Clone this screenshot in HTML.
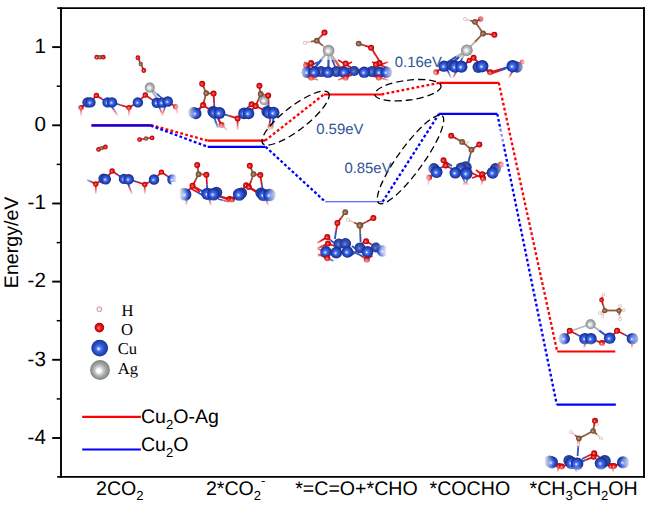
<!DOCTYPE html>
<html><head><meta charset="utf-8"><title>Energy profile</title>
<style>html,body{margin:0;padding:0;background:#fff}body{width:650px;height:507px;overflow:hidden}</style>
</head><body>
<svg width="650" height="507" viewBox="0 0 650 507" style="display:block" text-rendering="geometricPrecision">
<defs>
<radialGradient id="gCu" cx="0.5" cy="0.5" r="0.5" fx="0.42" fy="0.55"><stop offset="0" stop-color="#f4f8ff"/><stop offset="0.14" stop-color="#9db9ff"/><stop offset="0.32" stop-color="#4570ea"/><stop offset="0.65" stop-color="#2749c4"/><stop offset="1" stop-color="#162883"/></radialGradient>
<radialGradient id="gCub" cx="0.5" cy="0.5" r="0.5" fx="0.42" fy="0.55"><stop offset="0" stop-color="#7f97e6"/><stop offset="0.3" stop-color="#3e5cc4"/><stop offset="0.7" stop-color="#2c46a8"/><stop offset="1" stop-color="#1c2e80"/></radialGradient>
<radialGradient id="gO" cx="0.5" cy="0.5" r="0.5" fx="0.42" fy="0.55"><stop offset="0" stop-color="#ffc4c4"/><stop offset="0.22" stop-color="#ff4040"/><stop offset="0.6" stop-color="#e01014"/><stop offset="1" stop-color="#9c0606"/></radialGradient>
<radialGradient id="gC" cx="0.5" cy="0.5" r="0.5" fx="0.42" fy="0.55"><stop offset="0" stop-color="#d9b49a"/><stop offset="0.4" stop-color="#96674a"/><stop offset="1" stop-color="#6d452f"/></radialGradient>
<radialGradient id="gH" cx="0.5" cy="0.5" r="0.5" fx="0.42" fy="0.55"><stop offset="0" stop-color="#ffffff"/><stop offset="0.5" stop-color="#fdecec"/><stop offset="0.8" stop-color="#eec4c4"/><stop offset="1" stop-color="#c08c8c"/></radialGradient>
<radialGradient id="gAg" cx="0.5" cy="0.5" r="0.5" fx="0.42" fy="0.55"><stop offset="0" stop-color="#ffffff"/><stop offset="0.22" stop-color="#f0f1f1"/><stop offset="0.55" stop-color="#bcbfbf"/><stop offset="0.85" stop-color="#999c9c"/><stop offset="1" stop-color="#777a7a"/></radialGradient>
<radialGradient id="gCuL" cx="0.5" cy="0.5" r="0.5" fx="0.42" fy="0.55"><stop offset="0" stop-color="#ffffff"/><stop offset="0.1" stop-color="#c6d6ff"/><stop offset="0.28" stop-color="#4d76ee"/><stop offset="0.6" stop-color="#2a4fca"/><stop offset="0.88" stop-color="#2040a8"/><stop offset="1" stop-color="#182c84"/></radialGradient>
<radialGradient id="gAgL" cx="0.5" cy="0.5" r="0.5" fx="0.42" fy="0.55"><stop offset="0" stop-color="#ffffff"/><stop offset="0.2" stop-color="#ffffff"/><stop offset="0.42" stop-color="#c9cccc"/><stop offset="0.7" stop-color="#9da1a1"/><stop offset="0.9" stop-color="#8a8e8e"/><stop offset="1" stop-color="#747878"/></radialGradient>
<linearGradient id="fd" x1="0" y1="0" x2="0" y2="1"><stop offset="0" stop-color="#fff" stop-opacity="0"/><stop offset="1" stop-color="#fff" stop-opacity="1"/></linearGradient>
<linearGradient id="fl" x1="1" y1="0" x2="0" y2="0"><stop offset="0" stop-color="#fff" stop-opacity="0"/><stop offset="1" stop-color="#fff" stop-opacity="1"/></linearGradient>
<linearGradient id="fr" x1="0" y1="0" x2="1" y2="0"><stop offset="0" stop-color="#fff" stop-opacity="0"/><stop offset="1" stop-color="#fff" stop-opacity="1"/></linearGradient>
</defs>
<rect width="650" height="507" fill="#fff"/>
<g>
<line x1="81.0" y1="107.6" x2="81.0" y2="112.3" stroke="#e01418" stroke-width="1.8"/><line x1="81.0" y1="112.3" x2="81.0" y2="117.0" stroke="#e01418" stroke-width="1.8"/>
<line x1="110.0" y1="104.0" x2="114.0" y2="110.0" stroke="#2d50c4" stroke-width="1.8"/><line x1="114.0" y1="110.0" x2="118.0" y2="116.0" stroke="#e01418" stroke-width="1.8"/>
<line x1="129.0" y1="107.6" x2="129.0" y2="112.3" stroke="#e01418" stroke-width="1.8"/><line x1="129.0" y1="112.3" x2="129.0" y2="117.0" stroke="#e01418" stroke-width="1.8"/>
<line x1="158.0" y1="104.0" x2="160.5" y2="110.0" stroke="#2d50c4" stroke-width="1.8"/><line x1="160.5" y1="110.0" x2="163.0" y2="116.0" stroke="#e01418" stroke-width="1.8"/>
<line x1="166.0" y1="104.0" x2="164.0" y2="110.0" stroke="#2d50c4" stroke-width="1.8"/><line x1="164.0" y1="110.0" x2="162.0" y2="116.0" stroke="#e01418" stroke-width="1.8"/>
<line x1="175.6" y1="106.8" x2="176.8" y2="110.4" stroke="#e01418" stroke-width="1.8"/><line x1="176.8" y1="110.4" x2="178.0" y2="114.0" stroke="#e01418" stroke-width="1.8"/>
<line x1="149.8" y1="87.6" x2="153.9" y2="93.8" stroke="#b4b7b7" stroke-width="2.2"/><line x1="153.9" y1="93.8" x2="158.0" y2="100.0" stroke="#b4b7b7" stroke-width="2.2"/>
<line x1="149.8" y1="87.6" x2="156.9" y2="93.8" stroke="#b4b7b7" stroke-width="1.6"/><line x1="156.9" y1="93.8" x2="164.0" y2="100.0" stroke="#2d50c4" stroke-width="1.6"/>
<line x1="96.8" y1="57.2" x2="98.4" y2="57.2" stroke="#e01418" stroke-width="1.8"/><line x1="98.4" y1="57.2" x2="100.0" y2="57.2" stroke="#8a5a3e" stroke-width="1.8"/>
<line x1="100.0" y1="57.2" x2="101.6" y2="57.2" stroke="#8a5a3e" stroke-width="1.8"/><line x1="101.6" y1="57.2" x2="103.2" y2="57.2" stroke="#e01418" stroke-width="1.8"/>
<line x1="137.9" y1="57.7" x2="139.4" y2="60.9" stroke="#e01418" stroke-width="1.8"/><line x1="139.4" y1="60.9" x2="140.8" y2="64.0" stroke="#8a5a3e" stroke-width="1.8"/>
<line x1="140.8" y1="64.0" x2="142.3" y2="67.2" stroke="#8a5a3e" stroke-width="1.8"/><line x1="142.3" y1="67.2" x2="143.8" y2="70.5" stroke="#e01418" stroke-width="1.8"/>
<line x1="81.0" y1="107.6" x2="84.3" y2="105.0" stroke="#e01418" stroke-width="1.8"/><line x1="84.3" y1="105.0" x2="87.6" y2="102.4" stroke="#2d50c4" stroke-width="1.8"/>
<line x1="90.4" y1="102.4" x2="93.4" y2="98.9" stroke="#2d50c4" stroke-width="1.8"/><line x1="93.4" y1="98.9" x2="96.4" y2="95.4" stroke="#e01418" stroke-width="1.8"/>
<line x1="96.4" y1="95.4" x2="102.0" y2="98.9" stroke="#e01418" stroke-width="1.8"/><line x1="102.0" y1="98.9" x2="107.6" y2="102.4" stroke="#2d50c4" stroke-width="1.8"/>
<line x1="112.0" y1="102.4" x2="120.5" y2="105.0" stroke="#2d50c4" stroke-width="1.8"/><line x1="120.5" y1="105.0" x2="129.0" y2="107.6" stroke="#e01418" stroke-width="1.8"/>
<line x1="129.0" y1="107.6" x2="133.4" y2="105.0" stroke="#e01418" stroke-width="1.8"/><line x1="133.4" y1="105.0" x2="137.9" y2="102.4" stroke="#2d50c4" stroke-width="1.8"/>
<line x1="137.9" y1="102.4" x2="141.6" y2="98.7" stroke="#2d50c4" stroke-width="1.8"/><line x1="141.6" y1="98.7" x2="145.3" y2="95.0" stroke="#e01418" stroke-width="1.8"/>
<line x1="145.3" y1="95.0" x2="151.1" y2="98.9" stroke="#e01418" stroke-width="1.8"/><line x1="151.1" y1="98.9" x2="156.8" y2="102.8" stroke="#2d50c4" stroke-width="1.8"/>
<line x1="167.8" y1="101.5" x2="171.7" y2="104.2" stroke="#2d50c4" stroke-width="1.8"/><line x1="171.7" y1="104.2" x2="175.6" y2="106.8" stroke="#e01418" stroke-width="1.8"/>
<circle cx="96.8" cy="57.2" r="2.4" fill="url(#gO)"/>
<circle cx="100.0" cy="57.2" r="2.2" fill="url(#gC)"/>
<circle cx="103.2" cy="57.2" r="2.4" fill="url(#gO)"/>
<circle cx="137.9" cy="57.7" r="2.4" fill="url(#gO)"/>
<circle cx="140.8" cy="64.0" r="2.2" fill="url(#gC)"/>
<circle cx="143.8" cy="70.5" r="2.4" fill="url(#gO)"/>
<circle cx="81.0" cy="107.6" r="2.7" fill="url(#gO)"/>
<circle cx="87.6" cy="102.4" r="5.22" fill="url(#gCu)"/>
<circle cx="90.4" cy="102.4" r="5.22" fill="url(#gCu)"/>
<circle cx="96.4" cy="95.4" r="2.7" fill="url(#gO)"/>
<circle cx="107.6" cy="102.4" r="5.22" fill="url(#gCu)"/>
<circle cx="112.0" cy="102.4" r="5.22" fill="url(#gCu)"/>
<circle cx="129.0" cy="107.6" r="2.7" fill="url(#gO)"/>
<circle cx="137.9" cy="102.4" r="5.22" fill="url(#gCu)"/>
<circle cx="145.3" cy="95.0" r="2.7" fill="url(#gO)"/>
<circle cx="156.8" cy="102.8" r="5.22" fill="url(#gCu)"/>
<circle cx="162.0" cy="102.6" r="5.22" fill="url(#gCu)"/>
<circle cx="167.8" cy="101.5" r="5.22" fill="url(#gCu)"/>
<circle cx="175.6" cy="106.8" r="2.7" fill="url(#gO)"/>
<circle cx="149.8" cy="87.6" r="5.0" fill="url(#gAg)"/>
<rect x="70" y="107" width="115" height="10" fill="url(#fd)"/>
<rect x="70" y="116.5" width="115" height="12" fill="#fff"/>
<rect x="70" y="90" width="12" height="30" fill="url(#fl)"/>
<rect x="62.5" y="90" width="8" height="30" fill="#fff"/>
<rect x="172" y="90" width="9" height="30" fill="url(#fr)"/>
<rect x="180.5" y="90" width="8" height="30" fill="#fff"/>
</g>
<g>
<line x1="95.8" y1="183.9" x2="95.8" y2="188.9" stroke="#e01418" stroke-width="1.8"/><line x1="95.8" y1="188.9" x2="95.8" y2="194.0" stroke="#e01418" stroke-width="1.8"/>
<line x1="95.8" y1="183.9" x2="91.4" y2="181.9" stroke="#e01418" stroke-width="1.8"/><line x1="91.4" y1="181.9" x2="87.0" y2="180.0" stroke="#2d50c4" stroke-width="1.8"/>
<line x1="127.0" y1="181.0" x2="129.5" y2="187.5" stroke="#2d50c4" stroke-width="1.8"/><line x1="129.5" y1="187.5" x2="132.0" y2="194.0" stroke="#e01418" stroke-width="1.8"/>
<line x1="144.8" y1="184.5" x2="144.8" y2="189.2" stroke="#e01418" stroke-width="1.8"/><line x1="144.8" y1="189.2" x2="144.8" y2="194.0" stroke="#e01418" stroke-width="1.8"/>
<line x1="98.6" y1="149.4" x2="100.2" y2="148.8" stroke="#e01418" stroke-width="1.8"/><line x1="100.2" y1="148.8" x2="101.8" y2="148.1" stroke="#8a5a3e" stroke-width="1.8"/>
<line x1="101.8" y1="148.1" x2="103.6" y2="147.6" stroke="#8a5a3e" stroke-width="1.8"/><line x1="103.6" y1="147.6" x2="105.4" y2="147.0" stroke="#e01418" stroke-width="1.8"/>
<line x1="139.6" y1="139.6" x2="142.8" y2="139.1" stroke="#e01418" stroke-width="1.8"/><line x1="142.8" y1="139.1" x2="146.0" y2="138.5" stroke="#8a5a3e" stroke-width="1.8"/>
<line x1="146.0" y1="138.5" x2="149.1" y2="138.2" stroke="#8a5a3e" stroke-width="1.8"/><line x1="149.1" y1="138.2" x2="152.1" y2="137.9" stroke="#e01418" stroke-width="1.8"/>
<line x1="95.8" y1="183.9" x2="99.7" y2="181.2" stroke="#e01418" stroke-width="1.8"/><line x1="99.7" y1="181.2" x2="103.6" y2="178.6" stroke="#2d50c4" stroke-width="1.8"/>
<line x1="105.8" y1="179.2" x2="108.9" y2="175.1" stroke="#2d50c4" stroke-width="1.8"/><line x1="108.9" y1="175.1" x2="112.1" y2="171.0" stroke="#e01418" stroke-width="1.8"/>
<line x1="112.1" y1="171.0" x2="118.0" y2="174.9" stroke="#e01418" stroke-width="1.8"/><line x1="118.0" y1="174.9" x2="124.0" y2="178.9" stroke="#2d50c4" stroke-width="1.8"/>
<line x1="128.7" y1="179.3" x2="136.8" y2="181.9" stroke="#2d50c4" stroke-width="1.8"/><line x1="136.8" y1="181.9" x2="144.8" y2="184.5" stroke="#e01418" stroke-width="1.8"/>
<line x1="144.8" y1="184.5" x2="149.4" y2="182.0" stroke="#e01418" stroke-width="1.8"/><line x1="149.4" y1="182.0" x2="154.0" y2="179.5" stroke="#2d50c4" stroke-width="1.8"/>
<line x1="154.0" y1="179.5" x2="157.7" y2="175.8" stroke="#2d50c4" stroke-width="1.8"/><line x1="157.7" y1="175.8" x2="161.4" y2="172.1" stroke="#e01418" stroke-width="1.8"/>
<line x1="161.4" y1="172.1" x2="166.9" y2="175.8" stroke="#e01418" stroke-width="1.8"/><line x1="166.9" y1="175.8" x2="172.5" y2="179.5" stroke="#2d50c4" stroke-width="1.8"/>
<circle cx="98.6" cy="149.4" r="2.4" fill="url(#gO)"/>
<circle cx="101.8" cy="148.1" r="2.2" fill="url(#gC)"/>
<circle cx="105.4" cy="147.0" r="2.4" fill="url(#gO)"/>
<circle cx="139.6" cy="139.6" r="2.4" fill="url(#gO)"/>
<circle cx="146.0" cy="138.5" r="2.2" fill="url(#gC)"/>
<circle cx="152.1" cy="137.9" r="2.4" fill="url(#gO)"/>
<circle cx="95.8" cy="183.9" r="2.7" fill="url(#gO)"/>
<circle cx="103.6" cy="178.6" r="5.22" fill="url(#gCu)"/>
<circle cx="105.8" cy="179.2" r="5.22" fill="url(#gCu)"/>
<circle cx="112.1" cy="171.0" r="2.7" fill="url(#gO)"/>
<circle cx="124.0" cy="178.9" r="5.22" fill="url(#gCu)"/>
<circle cx="128.7" cy="179.3" r="5.22" fill="url(#gCu)"/>
<circle cx="144.8" cy="184.5" r="2.7" fill="url(#gO)"/>
<circle cx="154.0" cy="179.5" r="5.22" fill="url(#gCu)"/>
<circle cx="161.4" cy="172.1" r="2.7" fill="url(#gO)"/>
<circle cx="172.5" cy="179.5" r="5.22" fill="url(#gCu)"/>
<rect x="84" y="186" width="95" height="9" fill="url(#fd)"/>
<rect x="84" y="194.5" width="95" height="12" fill="#fff"/>
<rect x="84" y="170" width="8" height="24" fill="url(#fl)"/>
<rect x="76.5" y="170" width="8" height="24" fill="#fff"/>
<rect x="169" y="168" width="8" height="26" fill="url(#fr)"/>
<rect x="176.5" y="168" width="8" height="26" fill="#fff"/>
</g>
<g>
<line x1="237.6" y1="118.4" x2="237.6" y2="124.2" stroke="#e01418" stroke-width="1.8"/><line x1="237.6" y1="124.2" x2="237.6" y2="130.0" stroke="#e01418" stroke-width="1.8"/>
<line x1="217.0" y1="114.0" x2="219.5" y2="121.0" stroke="#2d50c4" stroke-width="1.8"/><line x1="219.5" y1="121.0" x2="222.0" y2="128.0" stroke="#e01418" stroke-width="1.8"/>
<line x1="213.0" y1="114.0" x2="215.5" y2="121.0" stroke="#2d50c4" stroke-width="1.8"/><line x1="215.5" y1="121.0" x2="218.0" y2="128.0" stroke="#2d50c4" stroke-width="1.8"/>
<line x1="271.0" y1="114.0" x2="270.0" y2="121.0" stroke="#2d50c4" stroke-width="1.8"/><line x1="270.0" y1="121.0" x2="269.0" y2="128.0" stroke="#e01418" stroke-width="1.8"/>
<line x1="274.0" y1="114.0" x2="273.0" y2="121.0" stroke="#2d50c4" stroke-width="1.8"/><line x1="273.0" y1="121.0" x2="272.0" y2="128.0" stroke="#2d50c4" stroke-width="1.8"/>
<line x1="221.5" y1="125.0" x2="224.8" y2="128.0" stroke="#e01418" stroke-width="1.8"/><line x1="224.8" y1="128.0" x2="228.0" y2="131.0" stroke="#e01418" stroke-width="1.8"/>
<line x1="251.6" y1="104.2" x2="248.3" y2="107.1" stroke="#e01418" stroke-width="1.8"/><line x1="248.3" y1="107.1" x2="245.0" y2="110.0" stroke="#2d50c4" stroke-width="1.8"/>
<line x1="203.1" y1="105.1" x2="200.6" y2="107.5" stroke="#e01418" stroke-width="1.8"/><line x1="200.6" y1="107.5" x2="198.0" y2="110.0" stroke="#2d50c4" stroke-width="1.8"/>
<line x1="264.0" y1="100.5" x2="267.0" y2="105.2" stroke="#b4b7b7" stroke-width="1.8"/><line x1="267.0" y1="105.2" x2="270.0" y2="110.0" stroke="#2d50c4" stroke-width="1.8"/>
<line x1="195.7" y1="113.4" x2="199.4" y2="109.2" stroke="#2d50c4" stroke-width="1.8"/><line x1="199.4" y1="109.2" x2="203.1" y2="105.1" stroke="#e01418" stroke-width="1.8"/>
<line x1="203.1" y1="105.1" x2="204.6" y2="99.1" stroke="#e01418" stroke-width="1.8"/><line x1="204.6" y1="99.1" x2="206.2" y2="93.1" stroke="#8a5a3e" stroke-width="1.8"/>
<line x1="206.2" y1="93.1" x2="204.2" y2="88.4" stroke="#8a5a3e" stroke-width="1.8"/><line x1="204.2" y1="88.4" x2="202.2" y2="83.8" stroke="#e01418" stroke-width="1.8"/>
<line x1="206.2" y1="93.1" x2="209.9" y2="93.3" stroke="#8a5a3e" stroke-width="1.8"/><line x1="209.9" y1="93.3" x2="213.6" y2="93.6" stroke="#e01418" stroke-width="1.8"/>
<line x1="213.6" y1="93.6" x2="214.1" y2="103.2" stroke="#e01418" stroke-width="1.8"/><line x1="214.1" y1="103.2" x2="214.6" y2="112.8" stroke="#2d50c4" stroke-width="1.8"/>
<line x1="203.1" y1="105.1" x2="208.8" y2="108.9" stroke="#e01418" stroke-width="1.8"/><line x1="208.8" y1="108.9" x2="214.6" y2="112.8" stroke="#2d50c4" stroke-width="1.8"/>
<line x1="219.4" y1="113.0" x2="228.5" y2="115.7" stroke="#2d50c4" stroke-width="1.8"/><line x1="228.5" y1="115.7" x2="237.6" y2="118.4" stroke="#e01418" stroke-width="1.8"/>
<line x1="237.6" y1="118.4" x2="240.8" y2="115.9" stroke="#e01418" stroke-width="1.8"/><line x1="240.8" y1="115.9" x2="244.0" y2="113.4" stroke="#2d50c4" stroke-width="1.8"/>
<line x1="248.5" y1="113.4" x2="252.1" y2="109.7" stroke="#2d50c4" stroke-width="1.8"/><line x1="252.1" y1="109.7" x2="255.7" y2="106.0" stroke="#e01418" stroke-width="1.8"/>
<line x1="255.7" y1="106.0" x2="258.2" y2="100.0" stroke="#e01418" stroke-width="1.8"/><line x1="258.2" y1="100.0" x2="260.7" y2="94.0" stroke="#8a5a3e" stroke-width="1.8"/>
<line x1="260.7" y1="94.0" x2="260.0" y2="89.8" stroke="#8a5a3e" stroke-width="1.8"/><line x1="260.0" y1="89.8" x2="259.4" y2="85.7" stroke="#e01418" stroke-width="1.8"/>
<line x1="260.7" y1="94.0" x2="264.4" y2="94.8" stroke="#8a5a3e" stroke-width="1.8"/><line x1="264.4" y1="94.8" x2="268.2" y2="95.5" stroke="#e01418" stroke-width="1.8"/>
<line x1="268.2" y1="95.5" x2="268.6" y2="104.2" stroke="#e01418" stroke-width="1.8"/><line x1="268.6" y1="104.2" x2="269.0" y2="112.8" stroke="#2d50c4" stroke-width="1.8"/>
<line x1="255.7" y1="106.0" x2="262.4" y2="109.4" stroke="#e01418" stroke-width="1.8"/><line x1="262.4" y1="109.4" x2="269.0" y2="112.8" stroke="#2d50c4" stroke-width="1.8"/>
<line x1="214.6" y1="112.8" x2="218.1" y2="118.9" stroke="#2d50c4" stroke-width="1.8"/><line x1="218.1" y1="118.9" x2="221.5" y2="125.0" stroke="#e01418" stroke-width="1.8"/>
<circle cx="193.5" cy="112.5" r="5.4" fill="url(#gCub)"/>
<circle cx="195.7" cy="113.4" r="5.8" fill="url(#gCu)"/>
<circle cx="203.1" cy="105.1" r="3.0" fill="url(#gO)"/>
<circle cx="206.2" cy="93.1" r="2.9" fill="url(#gC)"/>
<circle cx="202.2" cy="83.8" r="3.0" fill="url(#gO)"/>
<circle cx="213.6" cy="93.6" r="3.0" fill="url(#gO)"/>
<circle cx="213.0" cy="111.5" r="5.6" fill="url(#gCub)"/>
<circle cx="214.6" cy="112.8" r="6.0" fill="url(#gCu)"/>
<circle cx="219.4" cy="113.0" r="6.0" fill="url(#gCu)"/>
<circle cx="221.5" cy="125.0" r="3.0" fill="url(#gO)"/>
<circle cx="237.6" cy="118.4" r="3.0" fill="url(#gO)"/>
<circle cx="244.0" cy="113.4" r="5.8" fill="url(#gCu)"/>
<circle cx="248.5" cy="113.4" r="5.8" fill="url(#gCu)"/>
<circle cx="251.6" cy="104.2" r="3.0" fill="url(#gO)"/>
<circle cx="255.7" cy="106.0" r="3.0" fill="url(#gO)"/>
<circle cx="264.0" cy="100.5" r="4.6" fill="url(#gAg)"/>
<circle cx="260.7" cy="94.0" r="2.9" fill="url(#gC)"/>
<circle cx="259.4" cy="85.7" r="3.0" fill="url(#gO)"/>
<circle cx="268.2" cy="95.5" r="3.0" fill="url(#gO)"/>
<circle cx="267.0" cy="111.5" r="5.6" fill="url(#gCub)"/>
<circle cx="269.0" cy="112.8" r="6.0" fill="url(#gCu)"/>
<circle cx="273.5" cy="112.8" r="6.0" fill="url(#gCu)"/>
<circle cx="270.5" cy="127.0" r="3.0" fill="url(#gO)"/>
<rect x="186" y="122" width="95" height="9" fill="url(#fd)"/>
<rect x="186" y="130.5" width="95" height="12" fill="#fff"/>
<rect x="187" y="100" width="9" height="26" fill="url(#fl)"/>
<rect x="179.5" y="100" width="8" height="26" fill="#fff"/>
</g>
<g>
<line x1="192.5" y1="185.8" x2="196.2" y2="188.9" stroke="#e01418" stroke-width="1.8"/><line x1="196.2" y1="188.9" x2="200.0" y2="192.0" stroke="#e01418" stroke-width="1.8"/>
<line x1="190.0" y1="188.0" x2="197.0" y2="192.0" stroke="#e01418" stroke-width="1.8"/><line x1="197.0" y1="192.0" x2="204.0" y2="196.0" stroke="#2d50c4" stroke-width="1.8"/>
<line x1="218.0" y1="196.0" x2="223.5" y2="198.0" stroke="#2d50c4" stroke-width="1.8"/><line x1="223.5" y1="198.0" x2="229.0" y2="200.0" stroke="#e01418" stroke-width="1.8"/>
<line x1="218.0" y1="199.0" x2="223.5" y2="200.5" stroke="#2d50c4" stroke-width="1.8"/><line x1="223.5" y1="200.5" x2="229.0" y2="202.0" stroke="#e01418" stroke-width="1.8"/>
<line x1="246.1" y1="185.2" x2="251.1" y2="188.6" stroke="#e01418" stroke-width="1.8"/><line x1="251.1" y1="188.6" x2="256.0" y2="192.0" stroke="#e01418" stroke-width="1.8"/>
<line x1="248.8" y1="187.1" x2="254.4" y2="190.6" stroke="#e01418" stroke-width="1.8"/><line x1="254.4" y1="190.6" x2="260.0" y2="194.0" stroke="#2d50c4" stroke-width="1.8"/>
<line x1="209.0" y1="198.0" x2="210.0" y2="202.0" stroke="#2d50c4" stroke-width="1.8"/><line x1="210.0" y1="202.0" x2="211.0" y2="206.0" stroke="#e01418" stroke-width="1.8"/>
<line x1="266.0" y1="198.0" x2="267.0" y2="202.0" stroke="#2d50c4" stroke-width="1.8"/><line x1="267.0" y1="202.0" x2="268.0" y2="206.0" stroke="#e01418" stroke-width="1.8"/>
<line x1="187.0" y1="198.0" x2="186.5" y2="202.0" stroke="#2d50c4" stroke-width="1.8"/><line x1="186.5" y1="202.0" x2="186.0" y2="206.0" stroke="#e01418" stroke-width="1.8"/>
<line x1="185.2" y1="194.5" x2="188.8" y2="190.2" stroke="#2d50c4" stroke-width="1.8"/><line x1="188.8" y1="190.2" x2="192.5" y2="185.8" stroke="#e01418" stroke-width="1.8"/>
<line x1="192.5" y1="185.8" x2="195.6" y2="180.0" stroke="#e01418" stroke-width="1.8"/><line x1="195.6" y1="180.0" x2="198.6" y2="174.2" stroke="#8a5a3e" stroke-width="1.8"/>
<line x1="198.6" y1="174.2" x2="197.9" y2="169.6" stroke="#8a5a3e" stroke-width="1.8"/><line x1="197.9" y1="169.6" x2="197.2" y2="164.9" stroke="#e01418" stroke-width="1.8"/>
<line x1="198.6" y1="174.2" x2="202.5" y2="174.4" stroke="#8a5a3e" stroke-width="1.8"/><line x1="202.5" y1="174.4" x2="206.4" y2="174.7" stroke="#e01418" stroke-width="1.8"/>
<line x1="206.4" y1="174.7" x2="206.9" y2="184.3" stroke="#e01418" stroke-width="1.8"/><line x1="206.9" y1="184.3" x2="207.5" y2="193.9" stroke="#2d50c4" stroke-width="1.8"/>
<line x1="192.5" y1="185.8" x2="200.0" y2="189.9" stroke="#e01418" stroke-width="1.8"/><line x1="200.0" y1="189.9" x2="207.5" y2="193.9" stroke="#2d50c4" stroke-width="1.8"/>
<line x1="213.5" y1="194.2" x2="221.5" y2="196.6" stroke="#2d50c4" stroke-width="1.8"/><line x1="221.5" y1="196.6" x2="229.5" y2="199.1" stroke="#e01418" stroke-width="1.8"/>
<line x1="232.0" y1="199.6" x2="235.6" y2="197.1" stroke="#e01418" stroke-width="1.8"/><line x1="235.6" y1="197.1" x2="239.2" y2="194.5" stroke="#2d50c4" stroke-width="1.8"/>
<line x1="239.2" y1="194.5" x2="242.6" y2="189.8" stroke="#2d50c4" stroke-width="1.8"/><line x1="242.6" y1="189.8" x2="246.1" y2="185.2" stroke="#e01418" stroke-width="1.8"/>
<line x1="248.8" y1="187.1" x2="251.2" y2="180.6" stroke="#e01418" stroke-width="1.8"/><line x1="251.2" y1="180.6" x2="253.5" y2="174.2" stroke="#8a5a3e" stroke-width="1.8"/>
<line x1="253.5" y1="174.2" x2="251.7" y2="170.0" stroke="#8a5a3e" stroke-width="1.8"/><line x1="251.7" y1="170.0" x2="249.8" y2="165.8" stroke="#e01418" stroke-width="1.8"/>
<line x1="253.5" y1="174.2" x2="256.9" y2="174.6" stroke="#8a5a3e" stroke-width="1.8"/><line x1="256.9" y1="174.6" x2="260.3" y2="175.1" stroke="#e01418" stroke-width="1.8"/>
<line x1="260.3" y1="175.1" x2="261.9" y2="185.1" stroke="#e01418" stroke-width="1.8"/><line x1="261.9" y1="185.1" x2="263.5" y2="195.0" stroke="#2d50c4" stroke-width="1.8"/>
<line x1="248.8" y1="187.1" x2="256.1" y2="191.1" stroke="#e01418" stroke-width="1.8"/><line x1="256.1" y1="191.1" x2="263.5" y2="195.0" stroke="#2d50c4" stroke-width="1.8"/>
<circle cx="183.0" cy="193.5" r="5.6" fill="url(#gCub)"/>
<circle cx="185.2" cy="194.5" r="6.2" fill="url(#gCu)"/>
<circle cx="192.5" cy="185.8" r="3.0" fill="url(#gO)"/>
<circle cx="198.6" cy="174.2" r="2.9" fill="url(#gC)"/>
<circle cx="197.2" cy="164.9" r="3.0" fill="url(#gO)"/>
<circle cx="206.4" cy="174.7" r="3.0" fill="url(#gO)"/>
<circle cx="216.5" cy="192.5" r="5.8" fill="url(#gCub)"/>
<circle cx="207.5" cy="193.9" r="6.2" fill="url(#gCu)"/>
<circle cx="213.5" cy="194.2" r="6.3" fill="url(#gCu)"/>
<circle cx="229.5" cy="199.1" r="3.0" fill="url(#gO)"/>
<circle cx="232.0" cy="199.6" r="3.0" fill="url(#gO)"/>
<circle cx="241.5" cy="193.0" r="5.6" fill="url(#gCub)"/>
<circle cx="239.2" cy="194.5" r="6.3" fill="url(#gCu)"/>
<circle cx="246.1" cy="185.2" r="3.0" fill="url(#gO)"/>
<circle cx="248.8" cy="187.1" r="3.0" fill="url(#gO)"/>
<circle cx="253.5" cy="174.2" r="2.9" fill="url(#gC)"/>
<circle cx="249.8" cy="165.8" r="3.0" fill="url(#gO)"/>
<circle cx="260.3" cy="175.1" r="3.0" fill="url(#gO)"/>
<circle cx="261.0" cy="193.0" r="5.6" fill="url(#gCub)"/>
<circle cx="263.5" cy="195.0" r="6.2" fill="url(#gCu)"/>
<circle cx="269.5" cy="195.0" r="6.3" fill="url(#gCu)"/>
<rect x="176" y="199" width="102" height="7" fill="url(#fd)"/>
<rect x="176" y="205.5" width="102" height="12" fill="#fff"/>
<rect x="179" y="182" width="9" height="24" fill="url(#fl)"/>
<rect x="171.5" y="182" width="8" height="24" fill="#fff"/>
<rect x="267" y="182" width="10" height="24" fill="url(#fr)"/>
<rect x="276.5" y="182" width="8" height="24" fill="#fff"/>
</g>
<g>
<line x1="328.6" y1="50.5" x2="321.3" y2="59.8" stroke="#b4b7b7" stroke-width="2.4"/><line x1="321.3" y1="59.8" x2="314.0" y2="69.0" stroke="#2d50c4" stroke-width="2.4"/>
<line x1="328.6" y1="50.5" x2="328.5" y2="59.8" stroke="#b4b7b7" stroke-width="2.2"/><line x1="328.5" y1="59.8" x2="328.4" y2="69.0" stroke="#2d50c4" stroke-width="2.2"/>
<line x1="328.6" y1="50.5" x2="334.8" y2="59.8" stroke="#b4b7b7" stroke-width="2.4"/><line x1="334.8" y1="59.8" x2="341.0" y2="69.0" stroke="#d06060" stroke-width="2.4"/>
<line x1="328.6" y1="50.5" x2="332.3" y2="59.8" stroke="#b4b7b7" stroke-width="1.8"/><line x1="332.3" y1="59.8" x2="336.0" y2="69.0" stroke="#2d50c4" stroke-width="1.8"/>
<line x1="371.1" y1="47.7" x2="375.6" y2="54.9" stroke="#e01418" stroke-width="1.8"/><line x1="375.6" y1="54.9" x2="380.0" y2="62.0" stroke="#e01418" stroke-width="1.8"/>
<line x1="304.0" y1="62.0" x2="311.0" y2="65.5" stroke="#e01418" stroke-width="1.8"/><line x1="311.0" y1="65.5" x2="318.0" y2="69.0" stroke="#e01418" stroke-width="1.8"/>
<line x1="304.0" y1="69.0" x2="311.0" y2="65.5" stroke="#e01418" stroke-width="1.8"/><line x1="311.0" y1="65.5" x2="318.0" y2="62.0" stroke="#2d50c4" stroke-width="1.8"/>
<line x1="338.0" y1="60.0" x2="345.0" y2="64.0" stroke="#e01418" stroke-width="1.8"/><line x1="345.0" y1="64.0" x2="352.0" y2="68.0" stroke="#e01418" stroke-width="1.8"/>
<line x1="340.0" y1="68.0" x2="346.0" y2="65.0" stroke="#e01418" stroke-width="1.8"/><line x1="346.0" y1="65.0" x2="352.0" y2="62.0" stroke="#e01418" stroke-width="1.8"/>
<line x1="372.0" y1="68.0" x2="380.0" y2="65.0" stroke="#e01418" stroke-width="1.8"/><line x1="380.0" y1="65.0" x2="388.0" y2="62.0" stroke="#e01418" stroke-width="1.8"/>
<line x1="372.0" y1="62.0" x2="380.0" y2="65.0" stroke="#e01418" stroke-width="1.8"/><line x1="380.0" y1="65.0" x2="388.0" y2="68.0" stroke="#e01418" stroke-width="1.8"/>
<line x1="304.0" y1="76.0" x2="311.0" y2="78.0" stroke="#e01418" stroke-width="1.8"/><line x1="311.0" y1="78.0" x2="318.0" y2="80.0" stroke="#e01418" stroke-width="1.8"/>
<line x1="338.0" y1="80.0" x2="345.0" y2="77.5" stroke="#e01418" stroke-width="1.8"/><line x1="345.0" y1="77.5" x2="352.0" y2="75.0" stroke="#e01418" stroke-width="1.8"/>
<line x1="372.0" y1="76.0" x2="380.0" y2="78.0" stroke="#e01418" stroke-width="1.8"/><line x1="380.0" y1="78.0" x2="388.0" y2="80.0" stroke="#e01418" stroke-width="1.8"/>
<line x1="348.0" y1="68.0" x2="355.0" y2="70.0" stroke="#2d50c4" stroke-width="1.8"/><line x1="355.0" y1="70.0" x2="362.0" y2="72.0" stroke="#2d50c4" stroke-width="1.8"/>
<line x1="349.0" y1="74.0" x2="354.5" y2="72.0" stroke="#2d50c4" stroke-width="1.8"/><line x1="354.5" y1="72.0" x2="360.0" y2="70.0" stroke="#2d50c4" stroke-width="1.8"/>
<line x1="316.8" y1="40.7" x2="320.6" y2="36.7" stroke="#8a5a3e" stroke-width="1.8"/><line x1="320.6" y1="36.7" x2="324.5" y2="32.6" stroke="#e01418" stroke-width="1.8"/>
<line x1="316.8" y1="40.7" x2="311.0" y2="41.7" stroke="#8a5a3e" stroke-width="1.8"/><line x1="311.0" y1="41.7" x2="305.2" y2="42.7" stroke="#efc9c9" stroke-width="1.8"/>
<line x1="328.6" y1="50.5" x2="322.7" y2="45.6" stroke="#b4b7b7" stroke-width="1.8"/><line x1="322.7" y1="45.6" x2="316.8" y2="40.7" stroke="#8a5a3e" stroke-width="1.8"/>
<line x1="358.7" y1="43.6" x2="364.9" y2="45.7" stroke="#8a5a3e" stroke-width="1.8"/><line x1="364.9" y1="45.7" x2="371.1" y2="47.7" stroke="#e01418" stroke-width="1.8"/>
<circle cx="321.0" cy="71.5" r="5.6" fill="url(#gCub)"/>
<circle cx="336.5" cy="71.5" r="5.6" fill="url(#gCub)"/>
<circle cx="354.2" cy="71.0" r="5.0" fill="url(#gCub)"/>
<circle cx="372.0" cy="71.5" r="5.6" fill="url(#gCub)"/>
<circle cx="306.0" cy="65.5" r="3.0" fill="url(#gO)"/>
<circle cx="311.1" cy="63.1" r="3.0" fill="url(#gO)"/>
<circle cx="345.7" cy="63.5" r="3.0" fill="url(#gO)"/>
<circle cx="379.5" cy="63.1" r="3.0" fill="url(#gO)"/>
<circle cx="376.0" cy="64.5" r="3.0" fill="url(#gO)"/>
<circle cx="307.2" cy="72.3" r="5.8" fill="url(#gCu)"/>
<circle cx="314.2" cy="72.3" r="5.8" fill="url(#gCu)"/>
<circle cx="328.0" cy="72.3" r="5.8" fill="url(#gCu)"/>
<circle cx="344.2" cy="72.3" r="5.8" fill="url(#gCu)"/>
<circle cx="364.2" cy="72.3" r="5.8" fill="url(#gCu)"/>
<circle cx="379.5" cy="72.3" r="5.8" fill="url(#gCu)"/>
<circle cx="386.5" cy="72.3" r="5.8" fill="url(#gCu)"/>
<circle cx="311.1" cy="77.7" r="3.0" fill="url(#gO)"/>
<circle cx="345.7" cy="77.7" r="3.0" fill="url(#gO)"/>
<circle cx="378.8" cy="77.7" r="3.0" fill="url(#gO)"/>
<circle cx="328.6" cy="50.5" r="5.8" fill="url(#gAg)"/>
<circle cx="316.8" cy="40.7" r="2.9" fill="url(#gC)"/>
<circle cx="324.5" cy="32.6" r="3.0" fill="url(#gO)"/>
<circle cx="305.2" cy="42.7" r="1.9" fill="url(#gH)"/>
<circle cx="358.7" cy="43.6" r="2.9" fill="url(#gC)"/>
<circle cx="371.1" cy="47.7" r="3.0" fill="url(#gO)"/>
<rect x="300" y="76" width="95" height="8" fill="url(#fd)"/>
<rect x="300" y="83.5" width="95" height="12" fill="#fff"/>
<rect x="299" y="58" width="9" height="24" fill="url(#fl)"/>
<rect x="291.5" y="58" width="8" height="24" fill="#fff"/>
<rect x="384" y="58" width="10" height="24" fill="url(#fr)"/>
<rect x="393.5" y="58" width="8" height="24" fill="#fff"/>
</g>
<g>
<line x1="337.4" y1="222.9" x2="336.1" y2="230.9" stroke="#e01418" stroke-width="1.8"/><line x1="336.1" y1="230.9" x2="334.9" y2="239.0" stroke="#2d50c4" stroke-width="1.8"/>
<line x1="359.9" y1="225.3" x2="360.2" y2="233.7" stroke="#8a5a3e" stroke-width="1.8"/><line x1="360.2" y1="233.7" x2="360.6" y2="242.0" stroke="#2d50c4" stroke-width="1.8"/>
<line x1="327.3" y1="237.1" x2="322.1" y2="240.1" stroke="#e01418" stroke-width="1.8"/><line x1="322.1" y1="240.1" x2="317.0" y2="243.0" stroke="#e01418" stroke-width="1.8"/>
<line x1="328.0" y1="243.6" x2="322.5" y2="246.1" stroke="#e01418" stroke-width="1.8"/><line x1="322.5" y1="246.1" x2="317.0" y2="248.5" stroke="#e01418" stroke-width="1.8"/>
<line x1="328.0" y1="243.6" x2="332.2" y2="245.1" stroke="#e01418" stroke-width="1.8"/><line x1="332.2" y1="245.1" x2="336.5" y2="246.5" stroke="#e01418" stroke-width="1.8"/>
<line x1="327.3" y1="237.1" x2="330.6" y2="240.1" stroke="#e01418" stroke-width="1.8"/><line x1="330.6" y1="240.1" x2="334.0" y2="243.0" stroke="#2d50c4" stroke-width="1.8"/>
<line x1="366.1" y1="241.3" x2="360.8" y2="243.9" stroke="#e01418" stroke-width="1.8"/><line x1="360.8" y1="243.9" x2="355.5" y2="246.5" stroke="#e01418" stroke-width="1.8"/>
<line x1="366.1" y1="241.3" x2="371.3" y2="244.2" stroke="#e01418" stroke-width="1.8"/><line x1="371.3" y1="244.2" x2="376.5" y2="247.0" stroke="#e01418" stroke-width="1.8"/>
<line x1="327.3" y1="258.2" x2="322.6" y2="256.1" stroke="#e01418" stroke-width="1.8"/><line x1="322.6" y1="256.1" x2="318.0" y2="254.0" stroke="#e01418" stroke-width="1.8"/>
<line x1="327.3" y1="258.2" x2="330.4" y2="259.6" stroke="#e01418" stroke-width="1.8"/><line x1="330.4" y1="259.6" x2="333.5" y2="261.0" stroke="#2d50c4" stroke-width="1.8"/>
<line x1="366.8" y1="259.8" x2="363.9" y2="257.6" stroke="#e01418" stroke-width="1.8"/><line x1="363.9" y1="257.6" x2="361.0" y2="255.5" stroke="#e01418" stroke-width="1.8"/>
<line x1="366.8" y1="259.8" x2="369.6" y2="257.6" stroke="#e01418" stroke-width="1.8"/><line x1="369.6" y1="257.6" x2="372.5" y2="255.5" stroke="#e01418" stroke-width="1.8"/>
<line x1="318.0" y1="249.0" x2="322.0" y2="250.5" stroke="#e01418" stroke-width="1.8"/><line x1="322.0" y1="250.5" x2="326.0" y2="252.0" stroke="#e01418" stroke-width="1.8"/>
<line x1="318.0" y1="256.0" x2="322.0" y2="254.0" stroke="#e01418" stroke-width="1.8"/><line x1="322.0" y1="254.0" x2="326.0" y2="252.0" stroke="#e01418" stroke-width="1.8"/>
<line x1="350.0" y1="250.0" x2="356.0" y2="253.0" stroke="#2d50c4" stroke-width="1.8"/><line x1="356.0" y1="253.0" x2="362.0" y2="256.0" stroke="#2d50c4" stroke-width="1.8"/>
<line x1="350.0" y1="256.0" x2="356.0" y2="252.0" stroke="#2d50c4" stroke-width="1.8"/><line x1="356.0" y1="252.0" x2="362.0" y2="248.0" stroke="#2d50c4" stroke-width="1.8"/>
<line x1="370.0" y1="250.0" x2="377.0" y2="248.0" stroke="#2d50c4" stroke-width="1.8"/><line x1="377.0" y1="248.0" x2="384.0" y2="246.0" stroke="#2d50c4" stroke-width="1.8"/>
<line x1="352.0" y1="246.0" x2="356.0" y2="249.0" stroke="#2d50c4" stroke-width="1.8"/><line x1="356.0" y1="249.0" x2="360.0" y2="252.0" stroke="#2d50c4" stroke-width="1.8"/>
<line x1="345.3" y1="212.2" x2="341.4" y2="217.6" stroke="#8a5a3e" stroke-width="1.8"/><line x1="341.4" y1="217.6" x2="337.4" y2="222.9" stroke="#e01418" stroke-width="1.8"/>
<line x1="359.9" y1="225.3" x2="354.0" y2="222.5" stroke="#8a5a3e" stroke-width="1.8"/><line x1="354.0" y1="222.5" x2="348.1" y2="219.7" stroke="#efc9c9" stroke-width="1.8"/>
<line x1="359.9" y1="225.3" x2="366.6" y2="221.7" stroke="#8a5a3e" stroke-width="1.8"/><line x1="366.6" y1="221.7" x2="373.4" y2="218.0" stroke="#e01418" stroke-width="1.8"/>
<circle cx="327.3" cy="237.1" r="3.0" fill="url(#gO)"/>
<circle cx="376.0" cy="247.5" r="5.0" fill="url(#gCub)"/>
<circle cx="339.0" cy="243.8" r="5.4" fill="url(#gCub)"/>
<circle cx="345.5" cy="243.6" r="5.6" fill="url(#gCub)"/>
<circle cx="359.9" cy="247.8" r="5.4" fill="url(#gCub)"/>
<circle cx="328.0" cy="243.6" r="3.0" fill="url(#gO)"/>
<circle cx="325.9" cy="251.9" r="5.8" fill="url(#gCu)"/>
<circle cx="336.3" cy="252.6" r="5.8" fill="url(#gCu)"/>
<circle cx="347.4" cy="251.9" r="5.8" fill="url(#gCu)"/>
<circle cx="367.5" cy="251.9" r="5.8" fill="url(#gCu)"/>
<circle cx="382.7" cy="251.0" r="5.8" fill="url(#gCu)"/>
<circle cx="366.1" cy="241.3" r="3.0" fill="url(#gO)"/>
<circle cx="327.3" cy="258.2" r="3.0" fill="url(#gO)"/>
<circle cx="366.8" cy="259.8" r="3.0" fill="url(#gO)"/>
<circle cx="345.3" cy="212.2" r="2.9" fill="url(#gC)"/>
<circle cx="337.4" cy="222.9" r="3.0" fill="url(#gO)"/>
<circle cx="359.9" cy="225.3" r="3.4" fill="url(#gC)"/>
<circle cx="348.1" cy="219.7" r="1.9" fill="url(#gH)"/>
<circle cx="373.4" cy="218.0" r="3.0" fill="url(#gO)"/>
<rect x="316" y="258" width="72" height="8" fill="url(#fd)"/>
<rect x="316" y="265.5" width="72" height="12" fill="#fff"/>
<rect x="315" y="232" width="7" height="34" fill="url(#fl)"/>
<rect x="307.5" y="232" width="8" height="34" fill="#fff"/>
<rect x="377" y="236" width="10" height="30" fill="url(#fr)"/>
<rect x="386.5" y="236" width="8" height="30" fill="#fff"/>
</g>
<g>
<line x1="466.9" y1="50.2" x2="456.4" y2="56.6" stroke="#b4b7b7" stroke-width="2.0"/><line x1="456.4" y1="56.6" x2="446.0" y2="63.0" stroke="#2d50c4" stroke-width="2.0"/>
<line x1="466.9" y1="50.2" x2="458.9" y2="57.1" stroke="#b4b7b7" stroke-width="2.4"/><line x1="458.9" y1="57.1" x2="451.0" y2="64.0" stroke="#2d50c4" stroke-width="2.4"/>
<line x1="466.9" y1="50.2" x2="462.4" y2="58.1" stroke="#b4b7b7" stroke-width="1.6"/><line x1="462.4" y1="58.1" x2="458.0" y2="66.0" stroke="#2d50c4" stroke-width="1.6"/>
<line x1="447.0" y1="69.0" x2="449.0" y2="73.5" stroke="#2d50c4" stroke-width="1.8"/><line x1="449.0" y1="73.5" x2="451.0" y2="78.0" stroke="#2d50c4" stroke-width="1.8"/>
<line x1="457.0" y1="70.0" x2="455.0" y2="74.0" stroke="#2d50c4" stroke-width="1.8"/><line x1="455.0" y1="74.0" x2="453.0" y2="78.0" stroke="#e01418" stroke-width="1.8"/>
<line x1="513.0" y1="70.0" x2="511.0" y2="74.0" stroke="#2d50c4" stroke-width="1.8"/><line x1="511.0" y1="74.0" x2="509.0" y2="78.0" stroke="#e01418" stroke-width="1.8"/>
<line x1="485.0" y1="70.0" x2="487.5" y2="71.0" stroke="#2d50c4" stroke-width="1.8"/><line x1="487.5" y1="71.0" x2="490.0" y2="72.0" stroke="#e01418" stroke-width="1.8"/>
<line x1="492.0" y1="73.0" x2="499.0" y2="70.5" stroke="#e01418" stroke-width="2.4"/><line x1="499.0" y1="70.5" x2="506.0" y2="68.0" stroke="#2d50c4" stroke-width="2.4"/>
<line x1="436.0" y1="72.2" x2="440.0" y2="69.2" stroke="#e01418" stroke-width="1.8"/><line x1="440.0" y1="69.2" x2="444.0" y2="66.2" stroke="#2d50c4" stroke-width="1.8"/>
<line x1="461.4" y1="66.7" x2="465.4" y2="63.5" stroke="#2d50c4" stroke-width="1.8"/><line x1="465.4" y1="63.5" x2="469.3" y2="60.3" stroke="#e01418" stroke-width="1.8"/>
<line x1="473.6" y1="57.8" x2="477.9" y2="62.0" stroke="#e01418" stroke-width="1.8"/><line x1="477.9" y1="62.0" x2="482.2" y2="66.2" stroke="#2d50c4" stroke-width="1.8"/>
<line x1="482.2" y1="66.2" x2="486.2" y2="69.2" stroke="#2d50c4" stroke-width="1.8"/><line x1="486.2" y1="69.2" x2="490.2" y2="72.2" stroke="#e01418" stroke-width="1.8"/>
<line x1="490.2" y1="72.2" x2="501.5" y2="69.2" stroke="#e01418" stroke-width="1.8"/><line x1="501.5" y1="69.2" x2="512.7" y2="66.2" stroke="#2d50c4" stroke-width="1.8"/>
<line x1="512.7" y1="66.2" x2="517.5" y2="64.1" stroke="#2d50c4" stroke-width="1.8"/><line x1="517.5" y1="64.1" x2="522.3" y2="62.0" stroke="#e01418" stroke-width="1.8"/>
<line x1="466.9" y1="50.2" x2="475.0" y2="41.9" stroke="#b4b7b7" stroke-width="1.8"/><line x1="475.0" y1="41.9" x2="483.1" y2="33.5" stroke="#8a5a3e" stroke-width="1.8"/>
<line x1="483.1" y1="33.5" x2="488.8" y2="34.1" stroke="#8a5a3e" stroke-width="1.8"/><line x1="488.8" y1="34.1" x2="494.4" y2="34.8" stroke="#e01418" stroke-width="1.8"/>
<line x1="483.1" y1="33.5" x2="479.1" y2="27.6" stroke="#8a5a3e" stroke-width="1.8"/><line x1="479.1" y1="27.6" x2="475.0" y2="21.8" stroke="#8a5a3e" stroke-width="1.8"/>
<line x1="475.0" y1="21.8" x2="477.8" y2="20.5" stroke="#8a5a3e" stroke-width="1.8"/><line x1="477.8" y1="20.5" x2="480.6" y2="19.1" stroke="#e01418" stroke-width="1.8"/>
<line x1="475.0" y1="21.8" x2="470.1" y2="20.5" stroke="#8a5a3e" stroke-width="1.8"/><line x1="470.1" y1="20.5" x2="465.2" y2="19.1" stroke="#efc9c9" stroke-width="1.8"/>
<line x1="461.4" y1="66.7" x2="467.5" y2="62.2" stroke="#2d50c4" stroke-width="1.8"/><line x1="467.5" y1="62.2" x2="473.6" y2="57.8" stroke="#e01418" stroke-width="1.8"/>
<circle cx="436.0" cy="72.2" r="3.0" fill="url(#gO)"/>
<circle cx="444.0" cy="66.2" r="5.6" fill="url(#gCu)"/>
<circle cx="452.0" cy="65.5" r="5.4" fill="url(#gCub)"/>
<circle cx="455.1" cy="66.7" r="6.1" fill="url(#gCu)"/>
<circle cx="461.4" cy="66.7" r="6.1" fill="url(#gCu)"/>
<circle cx="469.3" cy="60.3" r="2.6" fill="url(#gO)"/>
<circle cx="473.6" cy="57.8" r="3.0" fill="url(#gO)"/>
<circle cx="478.3" cy="67.1" r="5.8" fill="url(#gCub)"/>
<circle cx="482.2" cy="66.2" r="6.2" fill="url(#gCu)"/>
<circle cx="490.2" cy="72.2" r="3.0" fill="url(#gO)"/>
<circle cx="517.2" cy="67.1" r="5.6" fill="url(#gCub)"/>
<circle cx="512.7" cy="66.2" r="6.2" fill="url(#gCu)"/>
<circle cx="522.3" cy="62.0" r="2.4" fill="url(#gO)"/>
<circle cx="466.9" cy="50.2" r="5.8" fill="url(#gAg)"/>
<circle cx="483.1" cy="33.5" r="2.9" fill="url(#gC)"/>
<circle cx="494.4" cy="34.8" r="3.0" fill="url(#gO)"/>
<circle cx="475.0" cy="21.8" r="2.9" fill="url(#gC)"/>
<circle cx="480.6" cy="19.1" r="2.8" fill="url(#gO)" opacity="0.55"/>
<circle cx="465.2" cy="19.1" r="1.9" fill="url(#gH)"/>
<rect x="428" y="72" width="100" height="7" fill="url(#fd)"/>
<rect x="428" y="78.5" width="100" height="12" fill="#fff"/>
<rect x="429" y="55" width="9" height="24" fill="url(#fl)"/>
<rect x="421.5" y="55" width="8" height="24" fill="#fff"/>
<rect x="517" y="52" width="10" height="26" fill="url(#fr)"/>
<rect x="526.5" y="52" width="8" height="26" fill="#fff"/>
</g>
<g>
<line x1="471.5" y1="149.7" x2="470.0" y2="155.8" stroke="#8a5a3e" stroke-width="1.8"/><line x1="470.0" y1="155.8" x2="468.5" y2="162.0" stroke="#2d50c4" stroke-width="1.8"/>
<line x1="445.6" y1="165.4" x2="450.3" y2="167.9" stroke="#e01418" stroke-width="1.8"/><line x1="450.3" y1="167.9" x2="455.0" y2="170.5" stroke="#2d50c4" stroke-width="1.8"/>
<line x1="443.5" y1="160.3" x2="447.8" y2="163.2" stroke="#e01418" stroke-width="1.8"/><line x1="447.8" y1="163.2" x2="452.0" y2="166.0" stroke="#2d50c4" stroke-width="1.8"/>
<line x1="445.6" y1="165.4" x2="441.8" y2="167.2" stroke="#e01418" stroke-width="1.8"/><line x1="441.8" y1="167.2" x2="438.0" y2="169.0" stroke="#2d50c4" stroke-width="1.8"/>
<line x1="472.0" y1="173.0" x2="479.0" y2="176.5" stroke="#e01418" stroke-width="1.8"/><line x1="479.0" y1="176.5" x2="486.0" y2="180.0" stroke="#e01418" stroke-width="1.8"/>
<line x1="472.0" y1="178.0" x2="481.0" y2="175.0" stroke="#e01418" stroke-width="1.8"/><line x1="481.0" y1="175.0" x2="490.0" y2="172.0" stroke="#e01418" stroke-width="1.8"/>
<line x1="476.0" y1="170.0" x2="480.0" y2="173.0" stroke="#e01418" stroke-width="1.8"/><line x1="480.0" y1="173.0" x2="484.0" y2="176.0" stroke="#e01418" stroke-width="1.8"/>
<line x1="463.0" y1="178.0" x2="464.5" y2="182.0" stroke="#2d50c4" stroke-width="1.8"/><line x1="464.5" y1="182.0" x2="466.0" y2="186.0" stroke="#e01418" stroke-width="1.8"/>
<line x1="468.0" y1="178.0" x2="466.5" y2="182.0" stroke="#2d50c4" stroke-width="1.8"/><line x1="466.5" y1="182.0" x2="465.0" y2="186.0" stroke="#e01418" stroke-width="1.8"/>
<line x1="483.0" y1="178.0" x2="482.0" y2="182.5" stroke="#e01418" stroke-width="1.8"/><line x1="482.0" y1="182.5" x2="481.0" y2="187.0" stroke="#e01418" stroke-width="1.8"/>
<line x1="429.0" y1="177.6" x2="428.5" y2="181.8" stroke="#e01418" stroke-width="1.8"/><line x1="428.5" y1="181.8" x2="428.0" y2="186.0" stroke="#e01418" stroke-width="1.8"/>
<line x1="429.0" y1="177.6" x2="431.5" y2="175.3" stroke="#e01418" stroke-width="1.8"/><line x1="431.5" y1="175.3" x2="434.0" y2="173.0" stroke="#2d50c4" stroke-width="1.8"/>
<line x1="495.0" y1="170.0" x2="498.0" y2="167.2" stroke="#2d50c4" stroke-width="1.8"/><line x1="498.0" y1="167.2" x2="501.0" y2="164.5" stroke="#e01418" stroke-width="1.8"/>
<line x1="451.2" y1="135.8" x2="456.7" y2="138.9" stroke="#e01418" stroke-width="1.8"/><line x1="456.7" y1="138.9" x2="462.2" y2="141.9" stroke="#8a5a3e" stroke-width="1.8"/>
<line x1="462.2" y1="141.9" x2="466.9" y2="145.8" stroke="#8a5a3e" stroke-width="1.8"/><line x1="466.9" y1="145.8" x2="471.5" y2="149.7" stroke="#8a5a3e" stroke-width="1.8"/>
<line x1="471.5" y1="149.7" x2="475.4" y2="147.1" stroke="#8a5a3e" stroke-width="1.8"/><line x1="475.4" y1="147.1" x2="479.3" y2="144.4" stroke="#e01418" stroke-width="1.8"/>
<circle cx="429.0" cy="177.6" r="3.0" fill="url(#gO)"/>
<circle cx="433.9" cy="168.6" r="5.6" fill="url(#gCub)"/>
<circle cx="465.7" cy="167.2" r="6.0" fill="url(#gCub)"/>
<circle cx="461.0" cy="168.0" r="5.4" fill="url(#gCub)"/>
<circle cx="495.5" cy="168.6" r="5.6" fill="url(#gCub)"/>
<circle cx="443.5" cy="160.3" r="3.0" fill="url(#gO)"/>
<circle cx="445.6" cy="165.4" r="3.0" fill="url(#gO)"/>
<circle cx="436.6" cy="172.1" r="6.0" fill="url(#gCu)"/>
<circle cx="455.3" cy="172.8" r="5.8" fill="url(#gCu)"/>
<circle cx="466.4" cy="173.5" r="6.2" fill="url(#gCu)"/>
<circle cx="482.3" cy="174.2" r="3.0" fill="url(#gO)"/>
<circle cx="483.0" cy="178.3" r="3.0" fill="url(#gO)"/>
<circle cx="492.7" cy="172.8" r="6.0" fill="url(#gCu)"/>
<circle cx="501.0" cy="164.5" r="3.0" fill="url(#gO)"/>
<circle cx="465.7" cy="185.2" r="3.0" fill="url(#gO)"/>
<circle cx="451.2" cy="135.8" r="3.0" fill="url(#gO)"/>
<circle cx="462.2" cy="141.9" r="2.9" fill="url(#gC)"/>
<circle cx="467.1" cy="142.3" r="1.4" fill="url(#gH)"/>
<circle cx="471.5" cy="149.7" r="2.9" fill="url(#gC)"/>
<circle cx="479.3" cy="144.4" r="3.0" fill="url(#gO)"/>
<rect x="424" y="178" width="84" height="8" fill="url(#fd)"/>
<rect x="424" y="185.5" width="84" height="12" fill="#fff"/>
<rect x="424" y="156" width="8" height="30" fill="url(#fl)"/>
<rect x="416.5" y="156" width="8" height="30" fill="#fff"/>
<rect x="496" y="156" width="10" height="26" fill="url(#fr)"/>
<rect x="505.5" y="156" width="8" height="26" fill="#fff"/>
</g>
<g>
<line x1="590.6" y1="324.3" x2="580.8" y2="327.6" stroke="#b4b7b7" stroke-width="1.6"/><line x1="580.8" y1="327.6" x2="571.0" y2="331.0" stroke="#b4b7b7" stroke-width="1.6"/>
<line x1="590.6" y1="324.3" x2="599.3" y2="330.6" stroke="#b4b7b7" stroke-width="2.0"/><line x1="599.3" y1="330.6" x2="608.0" y2="337.0" stroke="#2d50c4" stroke-width="2.0"/>
<line x1="586.0" y1="340.0" x2="585.0" y2="344.0" stroke="#2d50c4" stroke-width="1.8"/><line x1="585.0" y1="344.0" x2="584.0" y2="348.0" stroke="#e01418" stroke-width="1.8"/>
<line x1="632.0" y1="340.0" x2="632.0" y2="344.0" stroke="#2d50c4" stroke-width="1.8"/><line x1="632.0" y1="344.0" x2="632.0" y2="348.0" stroke="#e01418" stroke-width="1.8"/>
<line x1="564.2" y1="338.7" x2="567.0" y2="334.8" stroke="#2d50c4" stroke-width="1.8"/><line x1="567.0" y1="334.8" x2="569.7" y2="330.8" stroke="#e01418" stroke-width="1.8"/>
<line x1="569.7" y1="330.8" x2="577.4" y2="334.8" stroke="#e01418" stroke-width="1.8"/><line x1="577.4" y1="334.8" x2="585.0" y2="338.7" stroke="#2d50c4" stroke-width="1.8"/>
<line x1="590.9" y1="338.7" x2="596.5" y2="340.9" stroke="#2d50c4" stroke-width="1.8"/><line x1="596.5" y1="340.9" x2="602.0" y2="343.1" stroke="#e01418" stroke-width="1.8"/>
<line x1="602.0" y1="343.1" x2="605.9" y2="340.6" stroke="#e01418" stroke-width="1.8"/><line x1="605.9" y1="340.6" x2="609.7" y2="338.2" stroke="#2d50c4" stroke-width="1.8"/>
<line x1="609.7" y1="338.2" x2="613.4" y2="334.5" stroke="#2d50c4" stroke-width="1.8"/><line x1="613.4" y1="334.5" x2="617.1" y2="330.8" stroke="#e01418" stroke-width="1.8"/>
<line x1="617.1" y1="330.8" x2="624.8" y2="334.8" stroke="#e01418" stroke-width="1.8"/><line x1="624.8" y1="334.8" x2="632.5" y2="338.7" stroke="#2d50c4" stroke-width="1.8"/>
<line x1="601.6" y1="299.9" x2="602.5" y2="297.1" stroke="#e01418" stroke-width="1.8"/><line x1="602.5" y1="297.1" x2="603.5" y2="294.4" stroke="#efc9c9" stroke-width="1.8"/>
<line x1="601.6" y1="299.9" x2="603.2" y2="305.2" stroke="#e01418" stroke-width="1.8"/><line x1="603.2" y1="305.2" x2="604.8" y2="310.5" stroke="#8a5a3e" stroke-width="1.8"/>
<line x1="604.8" y1="310.5" x2="611.9" y2="310.5" stroke="#8a5a3e" stroke-width="1.8"/><line x1="611.9" y1="310.5" x2="619.0" y2="310.5" stroke="#8a5a3e" stroke-width="1.8"/>
<line x1="604.8" y1="310.5" x2="602.3" y2="311.9" stroke="#8a5a3e" stroke-width="1.8"/><line x1="602.3" y1="311.9" x2="599.8" y2="313.2" stroke="#efc9c9" stroke-width="1.8"/>
<line x1="604.8" y1="310.5" x2="603.6" y2="313.2" stroke="#8a5a3e" stroke-width="1.8"/><line x1="603.6" y1="313.2" x2="602.4" y2="316.0" stroke="#efc9c9" stroke-width="1.8"/>
<line x1="619.0" y1="310.5" x2="619.5" y2="308.0" stroke="#8a5a3e" stroke-width="1.8"/><line x1="619.5" y1="308.0" x2="620.1" y2="305.5" stroke="#efc9c9" stroke-width="1.8"/>
<line x1="619.0" y1="310.5" x2="621.4" y2="310.2" stroke="#8a5a3e" stroke-width="1.8"/><line x1="621.4" y1="310.2" x2="623.8" y2="309.9" stroke="#efc9c9" stroke-width="1.8"/>
<line x1="619.0" y1="310.5" x2="619.5" y2="314.8" stroke="#8a5a3e" stroke-width="1.8"/><line x1="619.5" y1="314.8" x2="620.1" y2="319.1" stroke="#efc9c9" stroke-width="1.8"/>
<circle cx="564.2" cy="338.7" r="5.8" fill="url(#gCu)"/>
<circle cx="569.7" cy="330.8" r="3.0" fill="url(#gO)"/>
<circle cx="585.0" cy="338.7" r="5.8" fill="url(#gCu)"/>
<circle cx="590.9" cy="338.7" r="5.8" fill="url(#gCu)"/>
<circle cx="602.0" cy="343.1" r="3.0" fill="url(#gO)"/>
<circle cx="609.7" cy="338.2" r="5.8" fill="url(#gCu)"/>
<circle cx="617.1" cy="330.8" r="3.0" fill="url(#gO)"/>
<circle cx="632.5" cy="338.7" r="5.8" fill="url(#gCu)"/>
<circle cx="590.6" cy="324.3" r="5.0" fill="url(#gAg)"/>
<circle cx="601.6" cy="299.9" r="2.4" fill="url(#gO)"/>
<circle cx="603.5" cy="294.4" r="1.6" fill="url(#gH)"/>
<circle cx="604.8" cy="310.5" r="2.6" fill="url(#gC)"/>
<circle cx="619.0" cy="310.5" r="2.6" fill="url(#gC)"/>
<circle cx="599.8" cy="313.2" r="1.6" fill="url(#gH)"/>
<circle cx="602.4" cy="316.0" r="1.6" fill="url(#gH)"/>
<circle cx="620.1" cy="305.5" r="1.6" fill="url(#gH)"/>
<circle cx="623.8" cy="309.9" r="1.6" fill="url(#gH)"/>
<circle cx="620.1" cy="319.1" r="1.6" fill="url(#gH)"/>
<rect x="556" y="342" width="84" height="7" fill="url(#fd)"/>
<rect x="556" y="348.5" width="84" height="12" fill="#fff"/>
<rect x="557" y="326" width="10" height="22" fill="url(#fl)"/>
<rect x="549.5" y="326" width="8" height="22" fill="#fff"/>
<rect x="630" y="326" width="12" height="22" fill="url(#fr)"/>
<rect x="641.5" y="326" width="8" height="22" fill="#fff"/>
</g>
<g>
<line x1="578.9" y1="438.4" x2="578.2" y2="447.2" stroke="#8a5a3e" stroke-width="1.8"/><line x1="578.2" y1="447.2" x2="577.6" y2="456.0" stroke="#2d50c4" stroke-width="1.8"/>
<line x1="582.0" y1="459.0" x2="587.0" y2="456.5" stroke="#2d50c4" stroke-width="1.8"/><line x1="587.0" y1="456.5" x2="592.0" y2="454.0" stroke="#e01418" stroke-width="1.8"/>
<line x1="559.0" y1="466.0" x2="558.0" y2="470.0" stroke="#e01418" stroke-width="1.8"/><line x1="558.0" y1="470.0" x2="557.0" y2="474.0" stroke="#e01418" stroke-width="1.8"/>
<line x1="612.0" y1="466.0" x2="613.0" y2="470.0" stroke="#e01418" stroke-width="1.8"/><line x1="613.0" y1="470.0" x2="614.0" y2="474.0" stroke="#e01418" stroke-width="1.8"/>
<line x1="575.0" y1="466.0" x2="576.0" y2="470.0" stroke="#2d50c4" stroke-width="1.8"/><line x1="576.0" y1="470.0" x2="577.0" y2="474.0" stroke="#2d50c4" stroke-width="1.8"/>
<line x1="551.8" y1="462.4" x2="555.5" y2="464.2" stroke="#2d50c4" stroke-width="1.8"/><line x1="555.5" y1="464.2" x2="559.2" y2="466.1" stroke="#e01418" stroke-width="1.8"/>
<line x1="561.8" y1="466.6" x2="566.6" y2="464.8" stroke="#e01418" stroke-width="1.8"/><line x1="566.6" y1="464.8" x2="571.5" y2="462.9" stroke="#2d50c4" stroke-width="1.8"/>
<line x1="577.1" y1="463.7" x2="585.4" y2="460.2" stroke="#2d50c4" stroke-width="1.8"/><line x1="585.4" y1="460.2" x2="593.7" y2="456.8" stroke="#e01418" stroke-width="1.8"/>
<line x1="594.2" y1="453.2" x2="599.5" y2="457.1" stroke="#e01418" stroke-width="1.8"/><line x1="599.5" y1="457.1" x2="604.8" y2="461.1" stroke="#2d50c4" stroke-width="1.8"/>
<line x1="601.1" y1="463.3" x2="606.2" y2="464.7" stroke="#2d50c4" stroke-width="1.8"/><line x1="606.2" y1="464.7" x2="611.2" y2="466.1" stroke="#e01418" stroke-width="1.8"/>
<line x1="614.0" y1="466.1" x2="618.6" y2="464.2" stroke="#e01418" stroke-width="1.8"/><line x1="618.6" y1="464.2" x2="623.2" y2="462.4" stroke="#2d50c4" stroke-width="1.8"/>
<line x1="595.0" y1="420.8" x2="594.0" y2="425.9" stroke="#e01418" stroke-width="1.8"/><line x1="594.0" y1="425.9" x2="593.1" y2="431.0" stroke="#8a5a3e" stroke-width="1.8"/>
<line x1="593.1" y1="431.0" x2="586.0" y2="434.7" stroke="#8a5a3e" stroke-width="1.8"/><line x1="586.0" y1="434.7" x2="578.9" y2="438.4" stroke="#8a5a3e" stroke-width="1.8"/>
<line x1="578.9" y1="438.4" x2="575.0" y2="435.1" stroke="#8a5a3e" stroke-width="1.8"/><line x1="575.0" y1="435.1" x2="571.0" y2="431.9" stroke="#efc9c9" stroke-width="1.8"/>
<line x1="593.1" y1="431.0" x2="597.1" y2="434.7" stroke="#8a5a3e" stroke-width="1.8"/><line x1="597.1" y1="434.7" x2="601.1" y2="438.4" stroke="#efc9c9" stroke-width="1.8"/>
<line x1="578.9" y1="438.4" x2="578.6" y2="441.4" stroke="#8a5a3e" stroke-width="1.8"/><line x1="578.6" y1="441.4" x2="578.4" y2="444.5" stroke="#efc9c9" stroke-width="1.8"/>
<circle cx="549.5" cy="461.0" r="5.6" fill="url(#gCub)"/>
<circle cx="551.8" cy="462.4" r="6.2" fill="url(#gCu)"/>
<circle cx="559.2" cy="466.1" r="3.0" fill="url(#gO)"/>
<circle cx="561.8" cy="466.6" r="3.0" fill="url(#gO)"/>
<circle cx="569.0" cy="460.5" r="5.6" fill="url(#gCub)"/>
<circle cx="571.5" cy="462.9" r="6.3" fill="url(#gCu)"/>
<circle cx="577.1" cy="463.7" r="6.3" fill="url(#gCu)"/>
<circle cx="593.7" cy="456.8" r="3.0" fill="url(#gO)"/>
<circle cx="594.2" cy="453.2" r="3.0" fill="url(#gO)"/>
<circle cx="604.8" cy="461.1" r="6.0" fill="url(#gCub)"/>
<circle cx="601.1" cy="463.3" r="6.3" fill="url(#gCu)"/>
<circle cx="611.2" cy="466.1" r="3.0" fill="url(#gO)"/>
<circle cx="614.0" cy="466.1" r="3.0" fill="url(#gO)"/>
<circle cx="623.2" cy="462.4" r="6.2" fill="url(#gCu)"/>
<circle cx="595.0" cy="420.8" r="3.0" fill="url(#gO)"/>
<circle cx="596.8" cy="424.5" r="1.7" fill="url(#gH)"/>
<circle cx="593.1" cy="431.0" r="2.8" fill="url(#gC)"/>
<circle cx="578.9" cy="438.4" r="2.8" fill="url(#gC)"/>
<circle cx="571.0" cy="431.9" r="1.7" fill="url(#gH)"/>
<circle cx="601.1" cy="438.4" r="1.7" fill="url(#gH)"/>
<circle cx="578.4" cy="444.5" r="1.7" fill="url(#gH)"/>
<rect x="543" y="466" width="90" height="7" fill="url(#fd)"/>
<rect x="543" y="472.5" width="90" height="12" fill="#fff"/>
<rect x="544" y="448" width="9" height="26" fill="url(#fl)"/>
<rect x="536.5" y="448" width="8" height="26" fill="#fff"/>
<rect x="621" y="448" width="9" height="26" fill="url(#fr)"/>
<rect x="629.5" y="448" width="8" height="26" fill="#fff"/>
</g>
<line x1="150.8" y1="125.0" x2="207.7" y2="140.7" stroke="#ff0000" stroke-width="2.3" stroke-dasharray="2.8 2.3"/>
<line x1="265.0" y1="140.7" x2="323.8" y2="94.5" stroke="#ff0000" stroke-width="2.3" stroke-dasharray="2.8 2.3"/>
<line x1="381.5" y1="94.5" x2="439.3" y2="82.8" stroke="#ff0000" stroke-width="2.3" stroke-dasharray="2.8 2.3"/>
<line x1="498.8" y1="82.8" x2="557.2" y2="351.5" stroke="#ff0000" stroke-width="2.3" stroke-dasharray="2.8 2.3"/>
<line x1="150.8" y1="125.6" x2="207.7" y2="146.8" stroke="#0000ff" stroke-width="2.3" stroke-dasharray="2.8 2.3"/>
<line x1="265.6" y1="146.8" x2="325.2" y2="201.7" stroke="#0000ff" stroke-width="2.3" stroke-dasharray="2.8 2.3"/>
<line x1="382.6" y1="201.7" x2="439.0" y2="113.9" stroke="#0000ff" stroke-width="2.3" stroke-dasharray="2.8 2.3"/>
<line x1="497.3" y1="113.9" x2="556.8" y2="404.6" stroke="#0000ff" stroke-width="2.3" stroke-dasharray="2.8 2.3"/>
<line x1="91.5" y1="125.0" x2="150.8" y2="125.0" stroke="#ff0000" stroke-width="2.2"/>
<line x1="207.7" y1="140.7" x2="265.0" y2="140.7" stroke="#ff0000" stroke-width="2.2"/>
<line x1="323.8" y1="94.5" x2="381.5" y2="94.5" stroke="#ff0000" stroke-width="2.2"/>
<line x1="439.3" y1="82.8" x2="498.8" y2="82.8" stroke="#ff0000" stroke-width="2.2"/>
<line x1="557.2" y1="351.5" x2="615.3" y2="351.5" stroke="#ff0000" stroke-width="2.2"/>
<line x1="91.5" y1="125.6" x2="150.8" y2="125.6" stroke="#0000ff" stroke-width="2.2"/>
<line x1="207.7" y1="146.8" x2="265.6" y2="146.8" stroke="#0000ff" stroke-width="2.2"/>
<line x1="325.2" y1="201.7" x2="382.6" y2="201.7" stroke="#3a3aff" stroke-width="1.1"/>
<line x1="439.0" y1="113.9" x2="497.3" y2="113.9" stroke="#0000ff" stroke-width="2.2"/>
<line x1="556.8" y1="404.6" x2="615.8" y2="404.6" stroke="#0000ff" stroke-width="2.2"/>
<ellipse cx="501.5" cy="137" rx="5" ry="8" fill="#fff" opacity="0.55"/>
<ellipse cx="295.6" cy="118.1" rx="41.5" ry="11.8" transform="rotate(-37.7 295.6 118.1)" fill="none" stroke="#000" stroke-width="1.3" stroke-dasharray="7 4"/>
<ellipse cx="407.9" cy="90.2" rx="33.4" ry="9.9" transform="rotate(-7.4 407.9 90.2)" fill="none" stroke="#000" stroke-width="1.3" stroke-dasharray="7 4"/>
<ellipse cx="410.5" cy="159.5" rx="54" ry="12.6" transform="rotate(-54.2 410.5 159.5)" fill="none" stroke="#000" stroke-width="1.3" stroke-dasharray="7 4"/>
<g stroke="#000" fill="none">
<line x1="61.0" y1="7.299999999999999" x2="61.0" y2="477.7" stroke-width="1.9"/>
<line x1="644.0" y1="7.299999999999999" x2="644.0" y2="477.7" stroke-width="1.9"/>
<line x1="57.2" y1="8.2" x2="644.9" y2="8.2" stroke-width="1.7"/>
<line x1="57.2" y1="476.8" x2="644.9" y2="476.8" stroke-width="1.7"/>
<line x1="52.2" y1="47.1" x2="61.0" y2="47.1" stroke-width="1.9"/>
<line x1="52.2" y1="125.3" x2="61.0" y2="125.3" stroke-width="1.9"/>
<line x1="52.2" y1="203.5" x2="61.0" y2="203.5" stroke-width="1.9"/>
<line x1="52.2" y1="281.6" x2="61.0" y2="281.6" stroke-width="1.9"/>
<line x1="52.2" y1="359.8" x2="61.0" y2="359.8" stroke-width="1.9"/>
<line x1="52.2" y1="438.0" x2="61.0" y2="438.0" stroke-width="1.9"/>
<line x1="56.7" y1="86.2" x2="61.0" y2="86.2" stroke-width="1.5"/>
<line x1="56.7" y1="164.4" x2="61.0" y2="164.4" stroke-width="1.5"/>
<line x1="56.7" y1="242.6" x2="61.0" y2="242.6" stroke-width="1.5"/>
<line x1="56.7" y1="320.7" x2="61.0" y2="320.7" stroke-width="1.5"/>
<line x1="56.7" y1="398.9" x2="61.0" y2="398.9" stroke-width="1.5"/>
</g>
<g font-family="'Liberation Sans', Arial, sans-serif" font-size="19.6" fill="#000">
<text x="45.9" y="52.8" text-anchor="end" font-size="20.6">1</text>
<text x="45.9" y="131.0" text-anchor="end" font-size="20.6">0</text>
<text x="45.9" y="209.2" text-anchor="end" font-size="20.6">-1</text>
<text x="45.9" y="287.3" text-anchor="end" font-size="20.6">-2</text>
<text x="45.9" y="365.5" text-anchor="end" font-size="20.6">-3</text>
<text x="45.9" y="443.7" text-anchor="end" font-size="20.6">-4</text>
<text transform="translate(18.4 242.4) rotate(-90)" text-anchor="middle">Energy/eV</text>
<text x="96" y="494.5">2CO<tspan font-size="13.1" dy="5.8">2</tspan></text>
<text x="205.9" y="494.5">2*CO<tspan font-size="13.1" dy="5.8">2</tspan><tspan font-size="13.1" dy="-15.5">-</tspan></text>
<text x="295.2" y="494.5">*=C=O+*CHO</text>
<text x="429.6" y="494.5">*COCHO</text>
<text x="529.5" y="494.5">*CH<tspan font-size="13.1" dy="5.8">3</tspan><tspan dy="-5.8">CH</tspan><tspan font-size="13.1" dy="5.8">2</tspan><tspan dy="-5.8">OH</tspan></text>
<text x="140.9" y="422.7">Cu<tspan font-size="13.1" dy="5.8">2</tspan><tspan dy="-5.8">O-Ag</tspan></text>
<text x="140.9" y="450.9">Cu<tspan font-size="13.1" dy="5.8">2</tspan><tspan dy="-5.8">O</tspan></text>
</g>
<line x1="82.2" y1="416.9" x2="140.9" y2="416.9" stroke="#ff0000" stroke-width="2.2"/>
<line x1="82.2" y1="449.5" x2="140.9" y2="449.5" stroke="#0000ff" stroke-width="2.2"/>
<g font-family="'Liberation Sans', Arial, sans-serif" font-size="14.9" fill="#2f5597">
<text x="316.2" y="133.9">0.59eV</text>
<text x="394.8" y="66.8">0.16eV</text>
<text x="344.4" y="172.5">0.85eV</text>
</g>
<circle cx="99.4" cy="309.2" r="2.5" fill="url(#gH)" stroke="#cfa3a3" stroke-width="0.9"/>
<circle cx="99.4" cy="327.6" r="4.8" fill="url(#gO)"/>
<circle cx="99.7" cy="348.1" r="8.4" fill="url(#gCuL)"/>
<circle cx="100.0" cy="370.0" r="9.9" fill="url(#gAgL)"/>
<g font-family="'Liberation Serif', 'Times New Roman', serif" font-size="16.6" fill="#000">
<text x="121.4" y="315.6">H</text>
<text x="120.9" y="334.9">O</text>
<text x="117.8" y="353.9">Cu</text>
<text x="117.8" y="374.4">Ag</text>
</g>
</svg>
</body></html>
